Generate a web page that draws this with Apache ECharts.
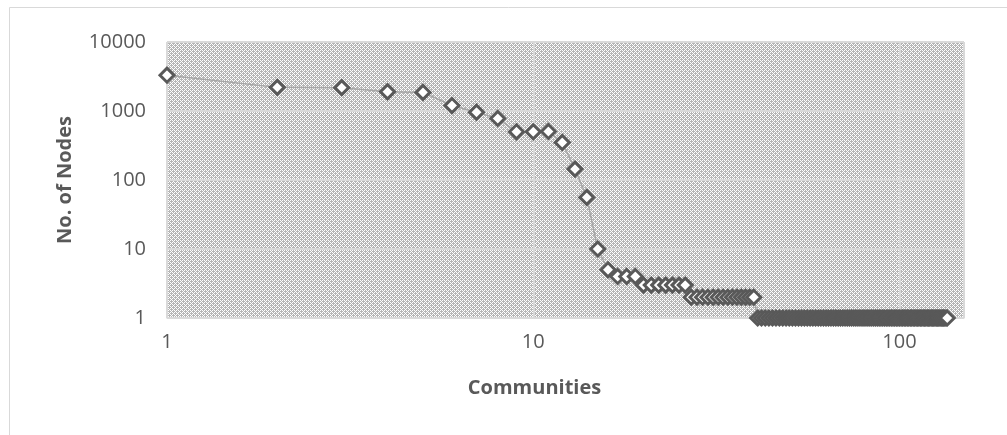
<!DOCTYPE html>
<html>
<head>
<meta charset="utf-8">
<script src="https://cdn.jsdelivr.net/npm/echarts@6/dist/echarts.min.js"></script>
<style>
  html, body { margin: 0; padding: 0; background: #fff; }
  #main { width: 1007px; height: 435px; }
</style>
</head>
<body>
<div id="main"></div>
<script>
"use strict";
// nodes per community, community rank 1..135
let nodeCounts = [
    3300, 2200, 2180, 1900, 1860, 1200, 960, 780, 500, 500,
    505, 350, 144, 56, 10, 5, 4, 4, 4, 3,
    3, 3, 3, 3, 3, 3, 2, 2, 2, 2,
    2, 2, 2, 2, 2, 2, 2, 2, 2, 2,
    1, 1, 1, 1, 1, 1, 1, 1, 1, 1,
    1, 1, 1, 1, 1, 1, 1, 1, 1, 1,
    1, 1, 1, 1, 1, 1, 1, 1, 1, 1,
    1, 1, 1, 1, 1, 1, 1, 1, 1, 1,
    1, 1, 1, 1, 1, 1, 1, 1, 1, 1,
    1, 1, 1, 1, 1, 1, 1, 1, 1, 1,
    1, 1, 1, 1, 1, 1, 1, 1, 1, 1,
    1, 1, 1, 1, 1, 1, 1, 1, 1, 1,
    1, 1, 1, 1, 1, 1, 1, 1, 1, 1,
    1, 1, 1, 1, 1
];
let xName = 'Communities';
let yName = 'No. of Nodes';

let points = [];
for (let i = 0; i < nodeCounts.length; i++) {
    points.push([i + 1, nodeCounts[i]]);
}

// excel style hatch fill for the plot area
function makeHatch() {
    let c = document.createElement('canvas');
    c.width = 8; c.height = 8;
    let ctx = c.getContext('2d');
    ctx.fillStyle = '#b5b5b5';
    ctx.fillRect(0, 0, 8, 8);
    ctx.fillStyle = '#ffffff';
    for (let y = 0; y < 8; y++) {
        for (let x = 0; x < 8; x++) {
            if ((x - y + 16) % 4 === 0 || ((x + y) % 4 === 2 && y % 2 === 0)) {
                ctx.fillRect(x, y, 1, 1);
            }
        }
    }
    return c;
}

let myChart = echarts.init(document.getElementById('main'));
let option = {
    animation: false,
    backgroundColor: '#fff',
    textStyle: { fontFamily: 'Open Sans' },
    graphic: [{
        type: 'rect',
        shape: { x: 9.5, y: 7.5, width: 1020, height: 450 },
        style: { fill: 'none', stroke: '#d9d9d9', lineWidth: 1 },
        silent: true
    }],
    grid: {
        left: 167, right: 43, top: 42, bottom: 117,
        show: true,
        backgroundColor: { image: makeHatch(), repeat: 'repeat' },
        borderWidth: 0
    },
    xAxis: {
        type: 'log',
        logBase: 10,
        min: 1,
        max: 150,
        name: xName,
        nameLocation: 'middle',
        nameGap: 60,
        nameTextStyle: {
            color: '#595959', fontSize: 20, fontWeight: 'bold',
            fontFamily: 'Open Sans', padding: [0, 62, 0, 0]
        },
        axisLine: { lineStyle: { color: '#d9d9d9', width: 1.5 } },
        axisTick: { show: false },
        axisLabel: {
            color: '#595959', fontSize: 20, margin: 14,
            showMaxLabel: false, fontFamily: 'Open Sans',
            formatter: function (v) { return String(v); }
        },
        splitLine: { show: true, lineStyle: { color: '#d9d9d9', width: 2 } },
        minorSplitLine: { show: false }
    },
    yAxis: {
        type: 'log',
        logBase: 10,
        min: 1,
        max: 10000,
        name: yName,
        nameLocation: 'middle',
        nameGap: 92,
        nameTextStyle: {
            color: '#595959', fontSize: 20, fontWeight: 'bold',
            fontFamily: 'Open Sans'
        },
        axisLine: { show: false },
        axisTick: { show: false },
        axisLabel: {
            color: '#595959', fontSize: 20, margin: 21, fontFamily: 'Open Sans',
            formatter: function (v) { return String(v); }
        },
        splitLine: { show: true, lineStyle: { color: '#d9d9d9', width: 2 } }
    },
    series: [{
        type: 'line',
        data: points,
        symbol: 'diamond',
        symbolSize: 14,
        showAllSymbol: true,
        lineStyle: { color: '#a6a6a6', width: 1.5 },
        itemStyle: { color: '#ffffff', borderColor: '#595959', borderWidth: 3 },
        emphasis: { disabled: true }
    }]
};
myChart.setOption(option);
</script>
</body>
</html>
